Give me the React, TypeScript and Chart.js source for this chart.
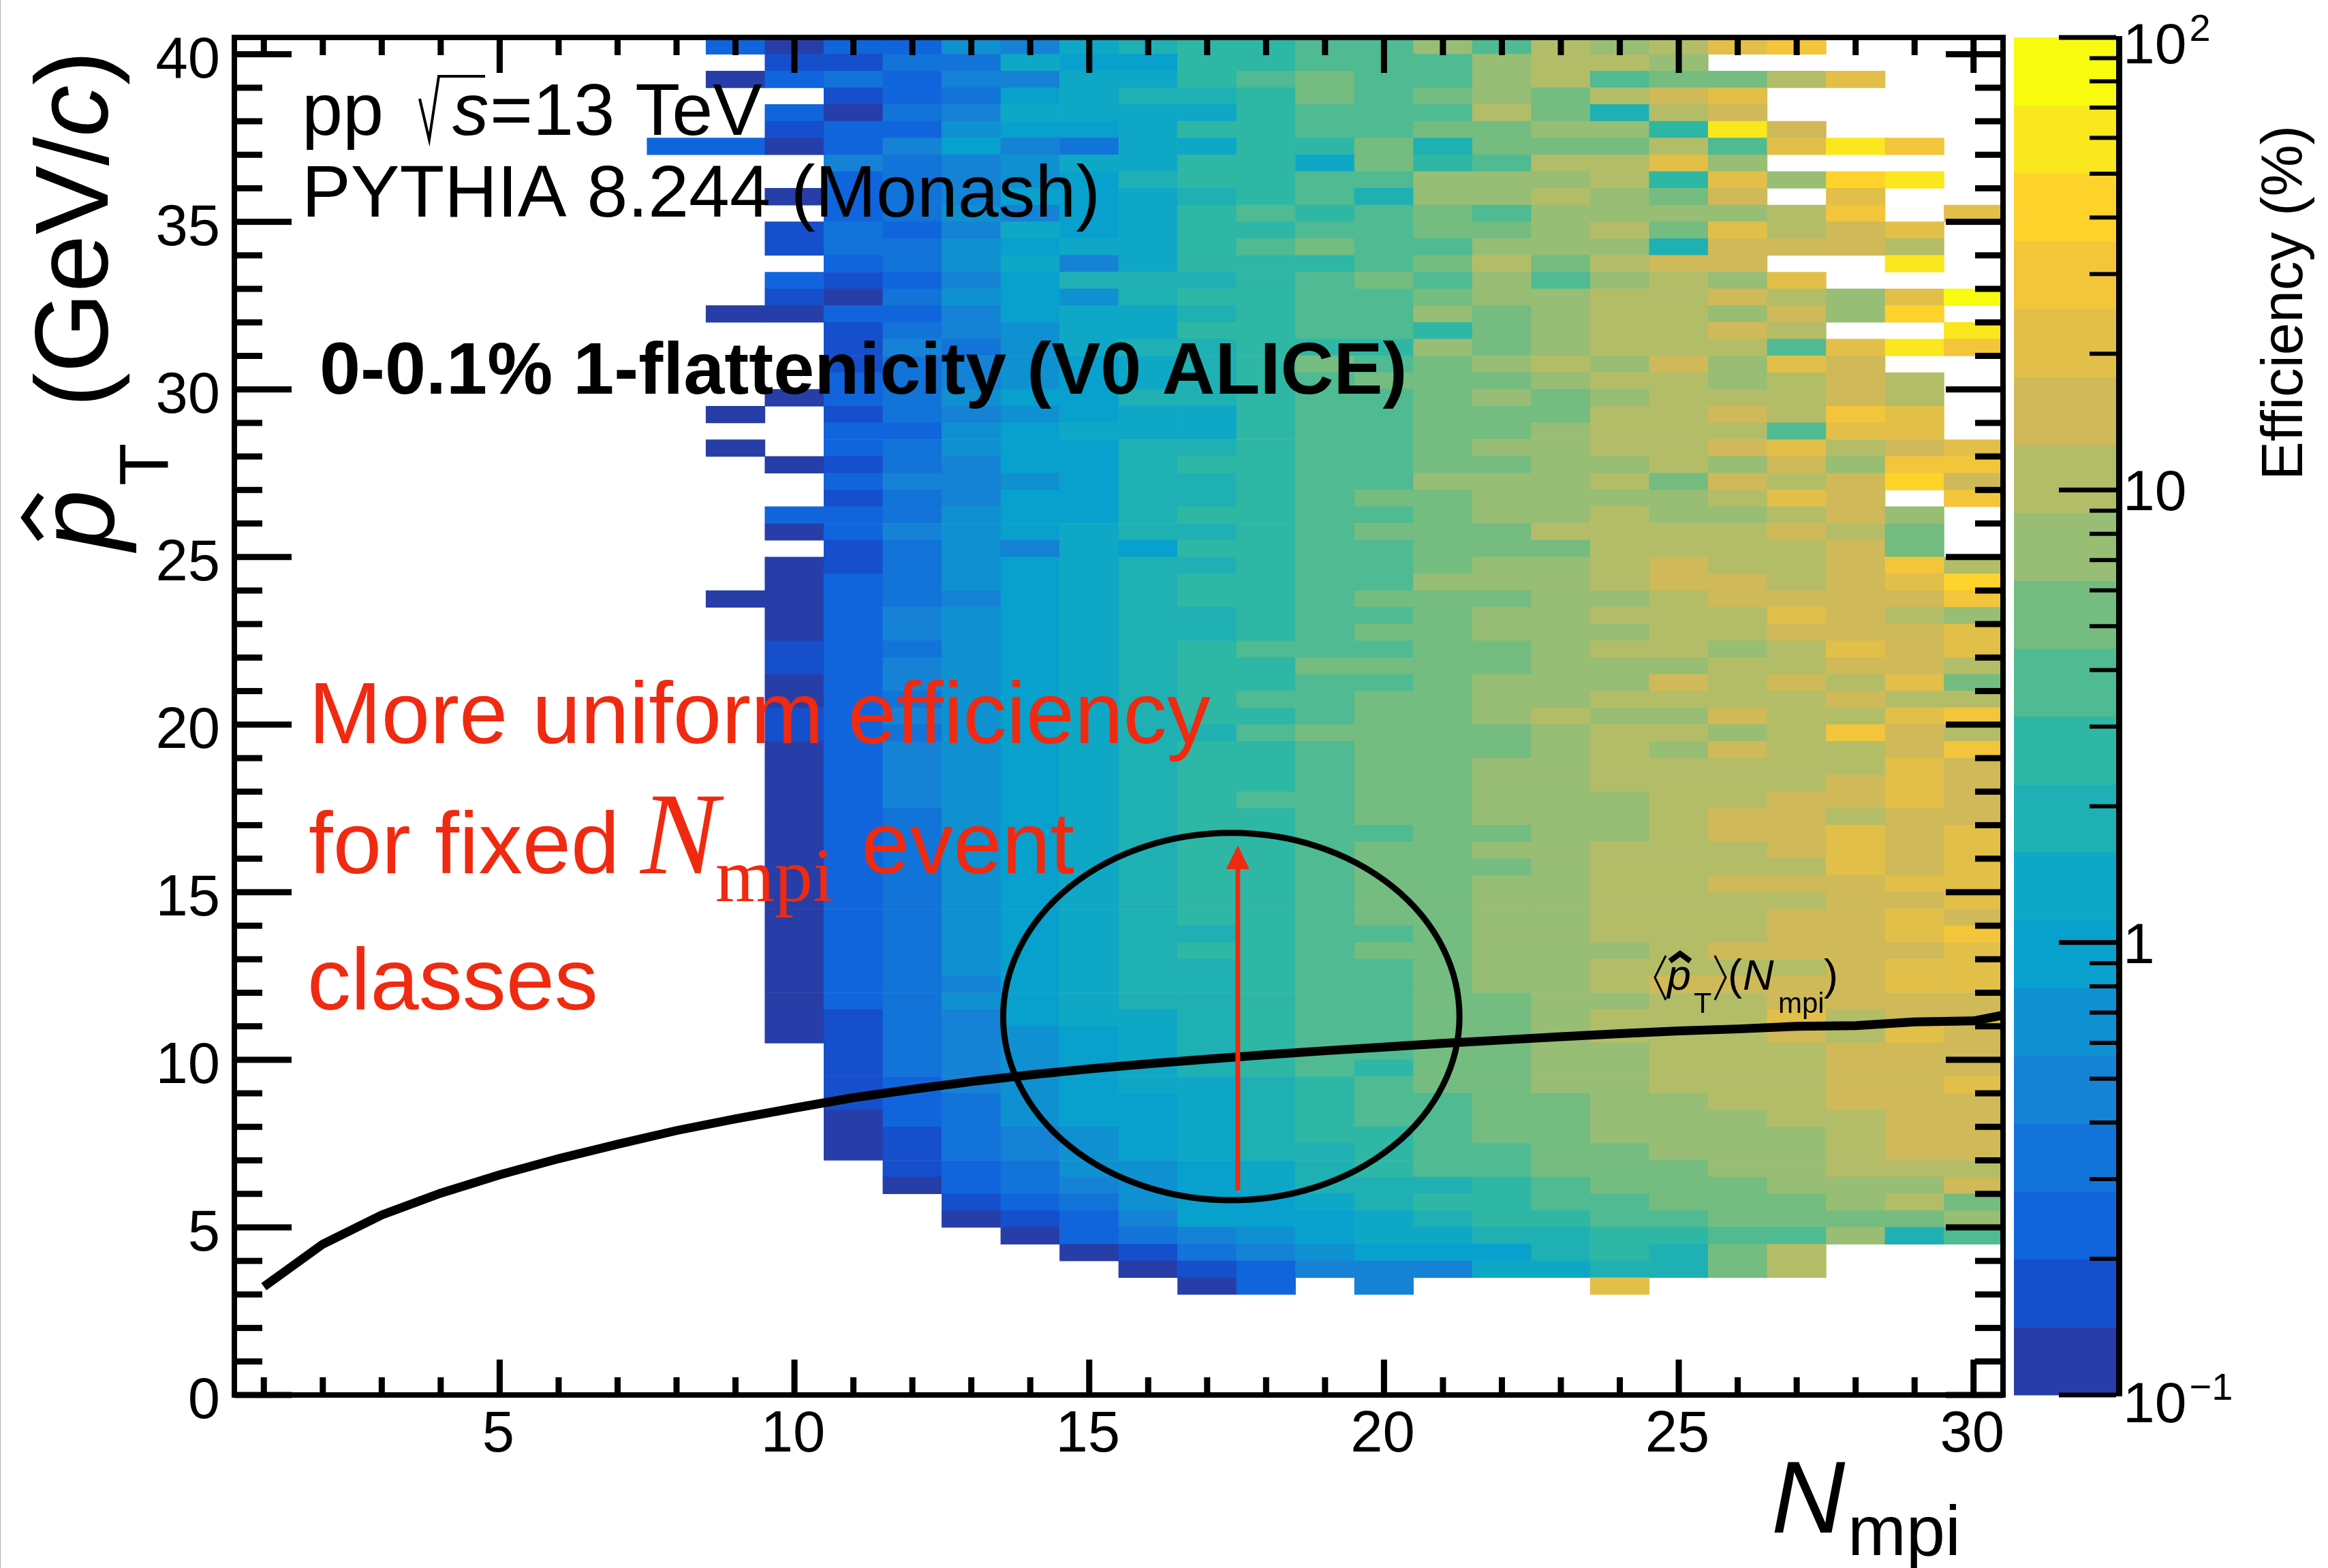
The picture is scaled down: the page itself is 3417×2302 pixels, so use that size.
import React, { useEffect, useRef } from "react";
import { Chart, registerables } from "chart.js";

Chart.register(...registerables);

// Colour-scale bands, lowest (0.1 %) to highest (100 %)
const bandColors = [
  "#273ea8", "#164fcb", "#1065dd", "#1273d8", "#1582d6",
  "#0f90d1", "#08a0cd", "#0ea8c6", "#1fb0b4", "#2fb7a5",
  "#50ba92", "#74bc80", "#98bd74", "#b3bd68", "#cfb958",
  "#e1bf49", "#f3c53b", "#fdd22b", "#fae71d", "#f9fb0e",
];
const bandCodes = "abcdefghijklmnopqrst";

// Each row is one 0.5 GeV/c pT bin (top row = 40-40.5), one letter per Nmpi bin from 8 to 30;
// the letter is the colour-scale band of the efficiency, "." = empty
const firstNmpiBin = 8;
const topRowLowEdge = 40;
const rowWidth = 0.5;
const efficiencyBandRows = [
  ".caccfehijjk" + "kmknmnpq...",
  "..bbddhggjjk" + "kkmnnm.....",
  ".acdceehhjkl" + "kkmnkllnp..",
  "...bcdghiijl" + "klmlnop....",
  "..cadehhhhjk" + "kknlino....",
  "..bccfgghjjk" + "kllmmjso...",
  "ccacegedhhjj" + "lilllnkpsq.",
  "...edefhhjjh" + "ljknnpm....",
  "...cdefgijjk" + "kmmmnjpmrs.",
  "..acdegghijk" + "immnmlo.p..",
  "...cdfeghjkj" + "klkmmmmnq.p",
  "..bdcehghjjk" + "kllmnlpnop.",
  "..bddfghhjkl" + "kkmmmiooon.",
  "...cdfhehjjj" + "klnlnoo..s.",
  "..cbcegiiijk" + "lkmkmnmp...",
  "..badfgfijjk" + "klmmnnonmpt",
  ".aacceghhijk" + "kmlmnnmomr.",
  "...bdefhhjjk" + "kjlmnnon..s",
  "...bedfhiijj" + "jmlmnnnkpsq",
  "...bdefghijl" + "klmnmompo..",
  "...cdefghijk" + "lllmnnmnon.",
  "..acdfggiijk" + "klmlmnnnon.",
  ".a.bdefghhjk" + "klllnnonqp.",
  "...ccfghhhjk" + "kllmnnnkpp.",
  ".a.cdfggiijk" + "klmmnnopnop",
  "..abdeggijjk" + "kllmmnmomqq",
  "...ceefgiijk" + "kmmmnlonoro",
  "...bdeggiijk" + "llmmmmnpo.q",
  "..ccdfggijjk" + "klmmnmmnom.",
  "..acefghiijk" + "lllnnnnonl.",
  "...bdfehgjjk" + "klllnnnnol.",
  "..abdfghiijk" + "klmmnonnoqn",
  "..acdfghijjk" + "kmmmnoonopr",
  ".aacdeghijjk" + "lllmmnooooq",
  "..acefghiijk" + "klmmnnnponm",
  "..acefghiijk" + "llmmmnnooop",
  "..bcdfghijkk" + "kllmnnmnpop",
  "..bcefghijjl" + "lllmmmnnoon",
  "..acefghijjk" + "klmmmononpl",
  "..acdfghijkk" + "llmmnnnnonn",
  "..bcefghijjk" + "llmnmmonnpq",
  "..bcdfghiikl" + "lllmnnmnqon",
  "..acefghijjk" + "lllmnmonnoq",
  "..acefghijjk" + "llmmnnnnnpo",
  "..acefghijjk" + "llmmnnnnopo",
  "..acefghijkk" + "llmmmnnoopo",
  "..acdfghijjk" + "llmmmnoonoo",
  "..acdfghijjk" + "kllmmnoopop",
  "..acdfghijjk" + "llmmnnnopop",
  "..acdfghijjk" + "lllmnnnnpop",
  "..acdfghijjk" + "llmmnnooopp",
  "..acdfghijjk" + "llmmnnnnoop",
  "..acdfghijjk" + "llmmnnnoopo",
  "..acdfghiijk" + "klmmnnnoopq",
  "..acdfghijjk" + "llmmmnoooop",
  "..acdfghiijk" + "klmmnnnnopp",
  "..acdeghiijk" + "klmmnoooopp",
  "..acdfghiijk" + "kllmmnnoooo",
  "..abdeghhijk" + "kllmnnnpnoo",
  "..abdefghijk" + "kllmnnnonpo",
  "...bdefghijk" + "kllmmnnnooo",
  "...bdefghijk" + "jllmmnnnooo",
  "...bcefghhij" + "kllmmnnnoop",
  "...bcdfgghij" + "kkllmmnnooo",
  "...acdfgghij" + "kkllmmmnnoo",
  "...abdefghij" + "jkllmmmmnoo",
  "...abdefghii" + "jkkllmmmnoo",
  "....bcdffghi" + "jkklllmmnnn",
  "....acdefghi" + "iijklllmmmo",
  ".....bcdfggh" + "ijjkklllmnl",
  ".....abceggg" + "hijjkkllllm",
  "......acdefg" + "hhiijjkkmik",
  ".......abdef" + "gggijiln...",
  "........abce" + "eehhiiln...",
  ".........ac." + "e...p......",
];

// Mean pT versus Nmpi
const curveNmpi = [1,2,3,4,5,6,7,8,9,10,11,12,13,14,15,16,17,18,19,20,21,22,23,24,25,26,27,28,29,30,31];
const curvePt = [3.23,4.5,5.37,6.02,6.57,7.05,7.48,7.89,8.24,8.56,8.87,9.12,9.35,9.55,9.73,9.88,10.02,10.15,10.27,10.38,10.49,10.59,10.69,10.78,10.86,10.92,11.0,11.02,11.13,11.16,11.5];

const xLabelTicks = [5, 10, 15, 20, 25, 30];
const yLabelTicks = [0, 5, 10, 15, 20, 25, 30, 35, 40];
const colorDecades = [0.1, 1, 10, 100];

// Annotations in data units
const ellipseCentre = { x: 17.41, y: 11.29 };
const ellipseRadii = { x: 3.87, y: 5.48 };
const arrowNmpi = 17.52;
const arrowFrom = 6.1;
const arrowTo = 16.4;

const SANS = '"Liberation Sans", Arial, sans-serif';
const SERIF = '"Liberation Serif", "Times New Roman", serif';
const RED = "#ef2a10";

function buildCells() {
  const cells: any[] = [];
  const colors: string[] = [];
  efficiencyBandRows.forEach((row, r) => {
    const low = topRowLowEdge - r * rowWidth;
    for (let i = 0; i < row.length; i++) {
      const band = bandCodes.indexOf(row[i]);
      if (band < 0) continue;
      cells.push({ x: firstNmpiBin + i, y: [low, low + rowWidth] });
      colors.push(bandColors[band]);
    }
  });
  return { cells, colors };
}

const overlayPlugin = {
  id: "overlay",
  afterDatasetsDraw(chart: any) {
    const { ctx, chartArea: a, scales } = chart;
    const sx = scales.x;
    const sy = scales.y;
    const sz = scales.z;
    ctx.save();

    // page edge line
    ctx.fillStyle = "#b0b0b0";
    ctx.fillRect(0, 0, 1, 2302);

    // ellipse
    ctx.strokeStyle = "#000";
    ctx.lineWidth = 9;
    ctx.beginPath();
    const cx = sx.getPixelForValue(ellipseCentre.x);
    const cy = sy.getPixelForValue(ellipseCentre.y);
    const rx = Math.abs(sx.getPixelForValue(ellipseCentre.x + ellipseRadii.x) - cx);
    const ry = Math.abs(sy.getPixelForValue(ellipseCentre.y + ellipseRadii.y) - cy);
    ctx.ellipse(cx, cy, rx, ry, 0, 0, Math.PI * 2);
    ctx.stroke();

    // red arrow
    const ax = sx.getPixelForValue(arrowNmpi);
    const ay0 = sy.getPixelForValue(arrowFrom);
    const ay1 = sy.getPixelForValue(arrowTo);
    ctx.strokeStyle = RED;
    ctx.fillStyle = RED;
    ctx.lineWidth = 7;
    ctx.beginPath();
    ctx.moveTo(ax, ay0);
    ctx.lineTo(ax, ay1 + 30);
    ctx.stroke();
    ctx.beginPath();
    ctx.moveTo(ax, ay1);
    ctx.lineTo(ax + 17, ay1 + 35);
    ctx.lineTo(ax - 17, ay1 + 35);
    ctx.closePath();
    ctx.fill();

    // ticks, all four sides
    ctx.fillStyle = "#000";
    const hTick = (v: number, len: number, t: number) => {
      const y = sy.getPixelForValue(v);
      ctx.fillRect(a.left, y - t / 2, len, t);
      ctx.fillRect(a.right - len, y - t / 2, len, t);
    };
    const vTick = (v: number, len: number, t: number) => {
      const x = sx.getPixelForValue(v);
      ctx.fillRect(x - t / 2, a.bottom - len, t, len);
      ctx.fillRect(x - t / 2, a.top, t, len);
    };
    for (let v = 0; v <= 40; v++) hTick(v, v % 5 === 0 ? 84 : 41, 9);
    for (let v = 1; v <= 30; v++) vTick(v, v % 5 === 0 ? 52 : 26, 9);

    // frame
    ctx.strokeStyle = "#000";
    ctx.lineWidth = 8;
    ctx.strokeRect(a.left, a.top, a.right - a.left, a.bottom - a.top);

    // axis tick labels
    ctx.textBaseline = "alphabetic";
    ctx.font = `85px ${SANS}`;
    ctx.textAlign = "right";
    sy.ticks.forEach((t: any) => {
      ctx.fillText(String(t.value), 323, sy.getPixelForValue(t.value) + 34);
    });
    ctx.textAlign = "center";
    sx.ticks.forEach((t: any) => {
      ctx.fillText(String(t.value), sx.getPixelForValue(t.value) - 2, 2131);
    });
    ctx.textAlign = "left";

    // colour bar
    const barL = 2956;
    const barR = 3106;
    const logMin = Math.log10(sz.min);
    const logMax = Math.log10(sz.max);
    bandColors.forEach((c, i) => {
      const v0 = Math.pow(10, logMin + ((logMax - logMin) * i) / bandColors.length);
      const v1 = Math.pow(10, logMin + ((logMax - logMin) * (i + 1)) / bandColors.length);
      const y0 = sz.getPixelForValue(v0);
      const y1 = sz.getPixelForValue(v1);
      ctx.fillStyle = c;
      ctx.fillRect(barL, y1, barR - barL, y0 - y1 + 0.5);
    });
    ctx.fillStyle = "#000";
    ctx.fillRect(barR, a.top - 2, 9, a.bottom - a.top + 4);
    colorDecades.forEach((d, idx) => {
      const y = sz.getPixelForValue(d);
      ctx.fillRect(barR - 84, y - 3.5, 84, 7);
      if (idx < colorDecades.length - 1) {
        for (let m = 2; m <= 9; m++) {
          const ym = sz.getPixelForValue(d * m);
          ctx.fillRect(barR - 39, ym - 3, 39, 6);
        }
      }
    });

    // colour bar labels
    const zx = 3116;
    const lab = (v: number, main: string, sup: string, off: number) => {
      const base = sz.getPixelForValue(v) + off;
      ctx.font = `84px ${SANS}`;
      ctx.fillText(main, zx, base);
      if (sup) {
        const w = ctx.measureText(main).width;
        ctx.font = `56px ${SANS}`;
        ctx.fillText(sup, zx + w + 4, base - 33);
      }
    };
    lab(100, "10", "2", 38);
    lab(10, "10", "", 30);
    lab(1, "1", "", 30);
    lab(0.1, "10", "\u22121", 40);

    const rotText = (x: number, y: number, draw: () => void) => {
      ctx.save();
      ctx.translate(x, y);
      ctx.rotate(-Math.PI / 2);
      draw();
      ctx.restore();
    };

    // colour bar title
    rotText(3379, 705, () => {
      ctx.font = `85.5px ${SANS}`;
      ctx.fillText("Efficiency (%)", 0, 0);
    });

    // y title
    rotText(158, 598, () => {
      ctx.font = `152px ${SANS}`;
      ctx.fillText("(GeV/", 0, 0);
      const w = ctx.measureText("(GeV/").width;
      ctx.font = `italic 152px ${SANS}`;
      ctx.fillText("c", w, 0);
      const w2 = ctx.measureText("c").width;
      ctx.font = `152px ${SANS}`;
      ctx.fillText(")", w + w2, 0);
    });
    rotText(247, 713, () => {
      ctx.font = `102px ${SANS}`;
      ctx.fillText("T", 0, 0);
    });
    rotText(167, 808, () => {
      ctx.font = `italic 160px ${SANS}`;
      ctx.fillText("p", 0, 0);
    });
    ctx.strokeStyle = "#000";
    ctx.lineWidth = 11;
    ctx.beginPath();
    ctx.moveTo(60, 727);
    ctx.lineTo(37, 760);
    ctx.lineTo(60, 791);
    ctx.stroke();

    // x title
    ctx.font = `italic 150px ${SANS}`;
    ctx.fillText("N", 2600, 2250);
    ctx.font = `103px ${SANS}`;
    ctx.fillText("mpi", 2712, 2283);

    // black captions
    ctx.font = `108px ${SANS}`;
    ctx.fillText("pp", 443, 198);
    ctx.lineWidth = 4;
    ctx.strokeStyle = "#000";
    ctx.beginPath();
    ctx.moveTo(616, 145);
    ctx.lineTo(630, 205);
    ctx.lineTo(644, 112);
    ctx.lineTo(712, 112);
    ctx.stroke();
    ctx.font = `italic 107px ${SANS}`;
    ctx.fillText("s", 664, 198);
    ctx.font = `108px ${SANS}`;
    ctx.fillText("=13 TeV", 719, 198);
    ctx.font = `107.6px ${SANS}`;
    ctx.fillText("PYTHIA 8.244 (Monash)", 443, 318);
    ctx.font = `bold 108px ${SANS}`;
    ctx.fillText("0-0.1% 1-flattenicity (V0 ALICE)", 469, 578);

    // red caption
    ctx.fillStyle = RED;
    ctx.font = `128.3px ${SANS}`;
    ctx.fillText("More uniform efficiency", 453, 1091);
    ctx.fillText("for fixed", 453, 1282);
    ctx.font = `italic 172px ${SERIF}`;
    ctx.fillText("N", 940, 1282);
    ctx.font = `112px ${SERIF}`;
    ctx.fillText("mpi", 1050, 1323);
    ctx.font = `128px ${SANS}`;
    ctx.fillText("event", 1264, 1282);
    ctx.fillText("classes", 451, 1482);

    // curve label
    ctx.fillStyle = "#000";
    ctx.strokeStyle = "#000";
    ctx.lineWidth = 3;
    ctx.beginPath();
    ctx.moveTo(2445, 1403);
    ctx.lineTo(2429, 1435);
    ctx.lineTo(2445, 1468);
    ctx.moveTo(2517, 1403);
    ctx.lineTo(2533, 1435);
    ctx.lineTo(2517, 1468);
    ctx.stroke();
    ctx.lineWidth = 8;
    ctx.beginPath();
    ctx.moveTo(2451, 1411);
    ctx.lineTo(2466, 1400);
    ctx.lineTo(2481, 1411);
    ctx.stroke();
    ctx.font = `italic 63px ${SANS}`;
    ctx.fillText("p", 2447, 1453);
    ctx.font = `43px ${SANS}`;
    ctx.fillText("T", 2486, 1487);
    ctx.font = `63px ${SANS}`;
    ctx.fillText("(", 2536, 1453);
    ctx.font = `italic 63px ${SANS}`;
    ctx.fillText("N", 2558, 1453);
    ctx.font = `42px ${SANS}`;
    ctx.fillText("mpi", 2610, 1487);
    ctx.font = `63px ${SANS}`;
    ctx.fillText(")", 2677, 1453);

    ctx.restore();
  },
};

export default function App() {
  const ref = useRef<HTMLCanvasElement | null>(null);
  useEffect(() => {
    document.body.style.margin = "0";
    document.body.style.background = "#fff";
    const { cells, colors } = buildCells();
    const chart = new Chart(ref.current as HTMLCanvasElement, {
      type: "bar",
      data: {
        datasets: [
          {
            type: "line",
            data: curveNmpi.map((x, i) => ({ x, y: curvePt[i] })),
            borderColor: "#000",
            borderWidth: 13,
            pointRadius: 0,
            tension: 0,
            order: 0,
          } as any,
          {
            type: "bar",
            data: cells,
            backgroundColor: colors,
            borderWidth: 0,
            barPercentage: 1,
            categoryPercentage: 1,
            order: 1,
          } as any,
        ],
      },
      options: {
        animation: false,
        responsive: false,
        events: [],
        layout: { padding: { left: 0, top: 55, right: 477, bottom: 0 } },
        plugins: { legend: { display: false }, title: { display: false }, tooltip: { enabled: false } },
        scales: {
          x: {
            type: "linear",
            offset: false,
            min: 0.5,
            max: 30.5,
            grid: { display: false, drawTicks: false },
            border: { display: false },
            afterBuildTicks: (s: any) => {
              s.ticks = xLabelTicks.map((value) => ({ value }));
            },
            afterFit: (s: any) => {
              s.height = 2302 - 2048;
              s.paddingLeft = 0;
              s.paddingRight = 0;
            },
            ticks: { display: false, autoSkip: false, maxRotation: 0 },
          },
          y: {
            type: "linear",
            min: 0,
            max: 40.5,
            grid: { display: false, drawTicks: false },
            border: { display: false },
            afterBuildTicks: (s: any) => {
              s.ticks = yLabelTicks.map((value) => ({ value }));
            },
            afterFit: (s: any) => {
              s.width = 344;
              s.paddingTop = 0;
              s.paddingBottom = 0;
            },
            ticks: { display: false, autoSkip: false },
          },
          z: {
            type: "logarithmic",
            display: false,
            position: "right",
            min: 0.1,
            max: 100,
          },
        },
      } as any,
      plugins: [overlayPlugin],
    });
    return () => chart.destroy();
  }, []);
  return (
    <div style={{ position: "absolute", left: 0, top: 0, width: 3417, height: 2302, background: "#fff" }}>
      <canvas ref={ref} width={3417} height={2302} style={{ display: "block", width: 3417, height: 2302 }} />
    </div>
  );
}
